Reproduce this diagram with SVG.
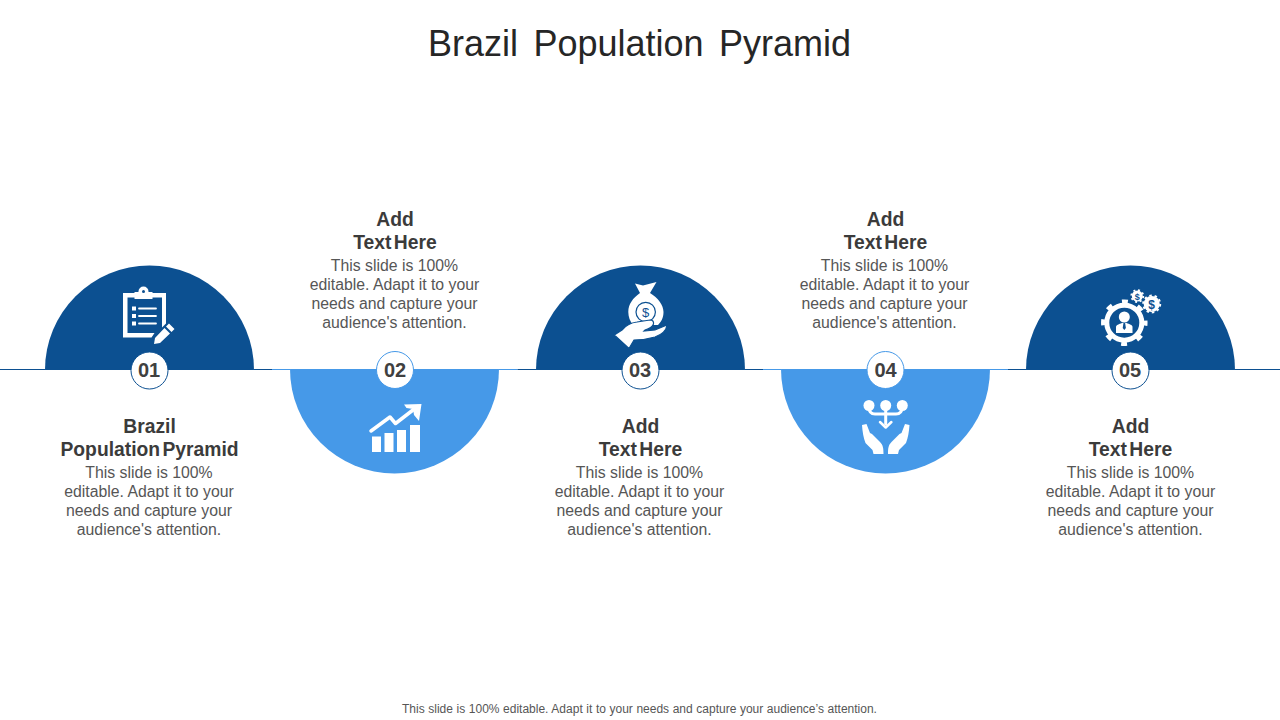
<svg xmlns="http://www.w3.org/2000/svg" width="1280" height="720" viewBox="0 0 1280 720">
<style>
text{font-family:"Liberation Sans",Arial,sans-serif;text-anchor:middle}
.title{font-size:36px;fill:#262626;word-spacing:5.500px}
.h{font-size:19.300px;font-weight:bold;fill:#3b3b3b;word-spacing:-3px}
.b{font-size:15.800px;fill:#565656}
.n{font-size:20px;font-weight:bold;fill:#404040}
.foot{font-size:12px;fill:#565656;word-spacing:.25px}
.dk{fill:#0c5091}.lt{fill:#4699e8}
.badge{fill:#fff;stroke:#0c5091;stroke-width:1}
.badge2{fill:#fff;stroke:#4699e8;stroke-width:1}
.w{fill:#fff}
.ws{fill:none;stroke:#fff;stroke-linecap:round;stroke-linejoin:round}
.cd{stroke:#0c5091;stroke-width:1}.cl{stroke:#4699e8;stroke-width:1}
</style>
<rect width="1280" height="720" fill="#fff"/>
<text class="title" x="639.500" y="56">Brazil Population Pyramid</text>
<g id="connectors">
<line class="cd" x1="0" y1="369.500" x2="45" y2="369.500"/>
<line class="cd" x1="254" y1="369.500" x2="272" y2="369.500"/>
<line class="cl" x1="272" y1="369.500" x2="290" y2="369.500"/>
<line class="cl" x1="499" y1="369.500" x2="517.500" y2="369.500"/>
<line class="cd" x1="517.500" y1="369.500" x2="536" y2="369.500"/>
<line class="cd" x1="745" y1="369.500" x2="763" y2="369.500"/>
<line class="cl" x1="763" y1="369.500" x2="781" y2="369.500"/>
<line class="cl" x1="990" y1="369.500" x2="1008" y2="369.500"/>
<line class="cd" x1="1008" y1="369.500" x2="1026" y2="369.500"/>
<line class="cd" x1="1235" y1="369.500" x2="1280" y2="369.500"/>
</g>

<g id="node-01">
<path class="dk" d="M45 370A104.500 104.500 0 0 1 254 370Z"/>
<path class="w" d="M123 293h12.500v5h16v-5H166v30.500l-4 4V297.500h-34.500v35.500h27l-3 4.500H123Z"/>
<circle class="w" cx="143.500" cy="291.500" r="5"/><rect class="w" x="134.500" y="292" width="18" height="7"/><circle class="dk" cx="143.500" cy="291.500" r="1.500"/>
<rect class="w" x="132" y="306.500" width="4" height="4"/><rect class="w" x="132" y="314" width="4" height="4"/><rect class="w" x="132" y="321.500" width="4" height="4"/>
<path class="ws" stroke-width="1.800" d="M139 308.500h17M139 316h17M139 323.500h17"/>
<path class="w" d="M169 323.500l5.500 5.500-3 3-5.500-5.500ZM164.500 328l5.500 5.500-10 9.500-6 1 1-6Z"/>
<circle class="badge" cx="149.500" cy="370.500" r="18.500"/>
<text class="n" x="149" y="377">01</text>
</g>

<g id="node-02">
<path class="lt" d="M290 369A104.500 104.500 0 0 0 499 369Z"/>
<rect class="w" x="372" y="436.500" width="9" height="15.500"/><rect class="w" x="384.500" y="433" width="9" height="19"/><rect class="w" x="397" y="430" width="9" height="22"/><rect class="w" x="410" y="425" width="10" height="27"/>
<path class="ws" stroke-width="3.500" d="M371 431l19-14 5.500 6.500 22-17"/>
<path class="w" d="M404 404.500l17.500-.5-2.500 17-5-6-1-6-6.500-1Z"/>
<circle class="badge2" cx="395" cy="370" r="18.500"/>
<text class="n" x="395" y="377">02</text>
</g>

<g id="node-03">
<path class="dk" d="M536 370A104.500 104.500 0 0 1 745 370Z"/>
<path class="w" d="M635 283.500L643 285.500L656.500 282L650 293C658 298 663.500 305 663.500 312C663.500 318 661 322 658 325L633 325C630 321 628.300 317 628.300 312C628.300 304 633 298 640 293Z"/>
<circle cx="645.700" cy="312" r="9.700" fill="none" stroke="#0c5091" stroke-width="1.200"/>
<text x="645.700" y="317" font-size="13" fill="#0c5091">$</text>
<path class="w" stroke="#0c5091" stroke-width="1.200" d="M614.300 335L622 330Q628 323 637 322L650 320Q654 320 653.500 324Q652 328 645 330L644 331L655 330L667 325Q666 333 655 337Q645 340 634 340L629 348.500Z"/>
<circle class="badge" cx="640.500" cy="370.500" r="18.500"/>
<text class="n" x="640" y="377">03</text>
</g>

<g id="node-04">
<path class="lt" d="M781 369A104.500 104.500 0 0 0 990 369Z"/>
<circle class="w" cx="869" cy="405.500" r="5.500"/><circle class="w" cx="885.700" cy="405.500" r="5.500"/><circle class="w" cx="902.300" cy="405.500" r="5.500"/>
<path class="ws" stroke-width="3" d="M869 407c0 5 2 7 6 7h21c4 0 6-2 6-7M885.700 408v16"/>
<path class="ws" stroke-width="2.500" d="M880 422l5.700 5.500 5.700-5.500"/>
<path class="w" d="M862 425l4.500-1 3.500 9 2 1 8 8c3 3 3.500 6 3.500 12h-10l-1-4-7-7c-2-5-3-11-3.500-18ZM909.500 425l-4.500-1-3.500 9-2 1-8 8c-3 3-3.500 6-3.500 12h10l1-4 7-7c2-5 3-11 3.500-18Z"/>
<circle class="badge2" cx="885.500" cy="370" r="18.500"/>
<text class="n" x="885.500" y="377">04</text>
</g>

<g id="node-05">
<path class="dk" d="M1026 370A104.500 104.500 0 0 1 1235 370Z"/>
<circle cx="1124.300" cy="322.700" r="17.500" fill="none" stroke="#fff" stroke-width="5"/>
<circle cx="1124.300" cy="322.700" r="21" fill="none" stroke="#fff" stroke-width="4.500" stroke-dasharray="6 10.490" stroke-dashoffset="3"/>
<circle class="w" cx="1124.300" cy="317" r="5.500"/>
<path class="w" d="M1116 333v-6c0-2 3-3 6-4h4.500c3 1 6 2 6 4v6Z"/>
<path class="dk" d="M1123.500 323h1.600l.8 5-1.600 2-1.600-2Z"/>
<circle class="w" cx="1137.300" cy="296" r="5.500"/>
<circle cx="1137.300" cy="296" r="6" fill="none" stroke="#fff" stroke-width="1.800" stroke-dasharray="2 2.710"/>
<text x="1137.300" y="299.500" font-size="9" font-weight="bold" fill="#0c5091">$</text>
<circle class="w" cx="1151.700" cy="304" r="8"/>
<circle cx="1151.700" cy="304" r="8.500" fill="none" stroke="#fff" stroke-width="2" stroke-dasharray="2.500 2.840"/>
<text x="1151.700" y="308.500" font-size="12" font-weight="bold" fill="#0c5091">$</text>
<circle class="badge" cx="1130.500" cy="370.500" r="18.500"/>
<text class="n" x="1130" y="377">05</text>
</g>

<g id="text-01">
<text class="h" x="149.500" y="433">Brazil</text><text class="h" x="149.500" y="456">Population Pyramid</text>
<text class="b" x="149" y="478">This slide is 100%</text><text class="b" x="149" y="497">editable. Adapt it to your</text><text class="b" x="149" y="516">needs and capture your</text><text class="b" x="149" y="535">audience's attention.</text>
</g>
<g id="text-02">
<text class="h" x="395" y="226">Add</text><text class="h" x="395" y="249">Text Here</text>
<text class="b" x="394.500" y="271">This slide is 100%</text><text class="b" x="394.500" y="290">editable. Adapt it to your</text><text class="b" x="394.500" y="309">needs and capture your</text><text class="b" x="394.500" y="328">audience's attention.</text>
</g>
<g id="text-03">
<text class="h" x="640.500" y="433">Add</text><text class="h" x="640.500" y="456">Text Here</text>
<text class="b" x="639.500" y="478">This slide is 100%</text><text class="b" x="639.500" y="497">editable. Adapt it to your</text><text class="b" x="639.500" y="516">needs and capture your</text><text class="b" x="639.500" y="535">audience's attention.</text>
</g>
<g id="text-04">
<text class="h" x="885.500" y="226">Add</text><text class="h" x="885.500" y="249">Text Here</text>
<text class="b" x="884.500" y="271">This slide is 100%</text><text class="b" x="884.500" y="290">editable. Adapt it to your</text><text class="b" x="884.500" y="309">needs and capture your</text><text class="b" x="884.500" y="328">audience's attention.</text>
</g>
<g id="text-05">
<text class="h" x="1130.500" y="433">Add</text><text class="h" x="1130.500" y="456">Text Here</text>
<text class="b" x="1130.500" y="478">This slide is 100%</text><text class="b" x="1130.500" y="497">editable. Adapt it to your</text><text class="b" x="1130.500" y="516">needs and capture your</text><text class="b" x="1130.500" y="535">audience's attention.</text>
</g>
<text class="foot" x="639.500" y="713">This slide is 100% editable. Adapt it to your needs and capture your audience’s attention.</text>
</svg>
